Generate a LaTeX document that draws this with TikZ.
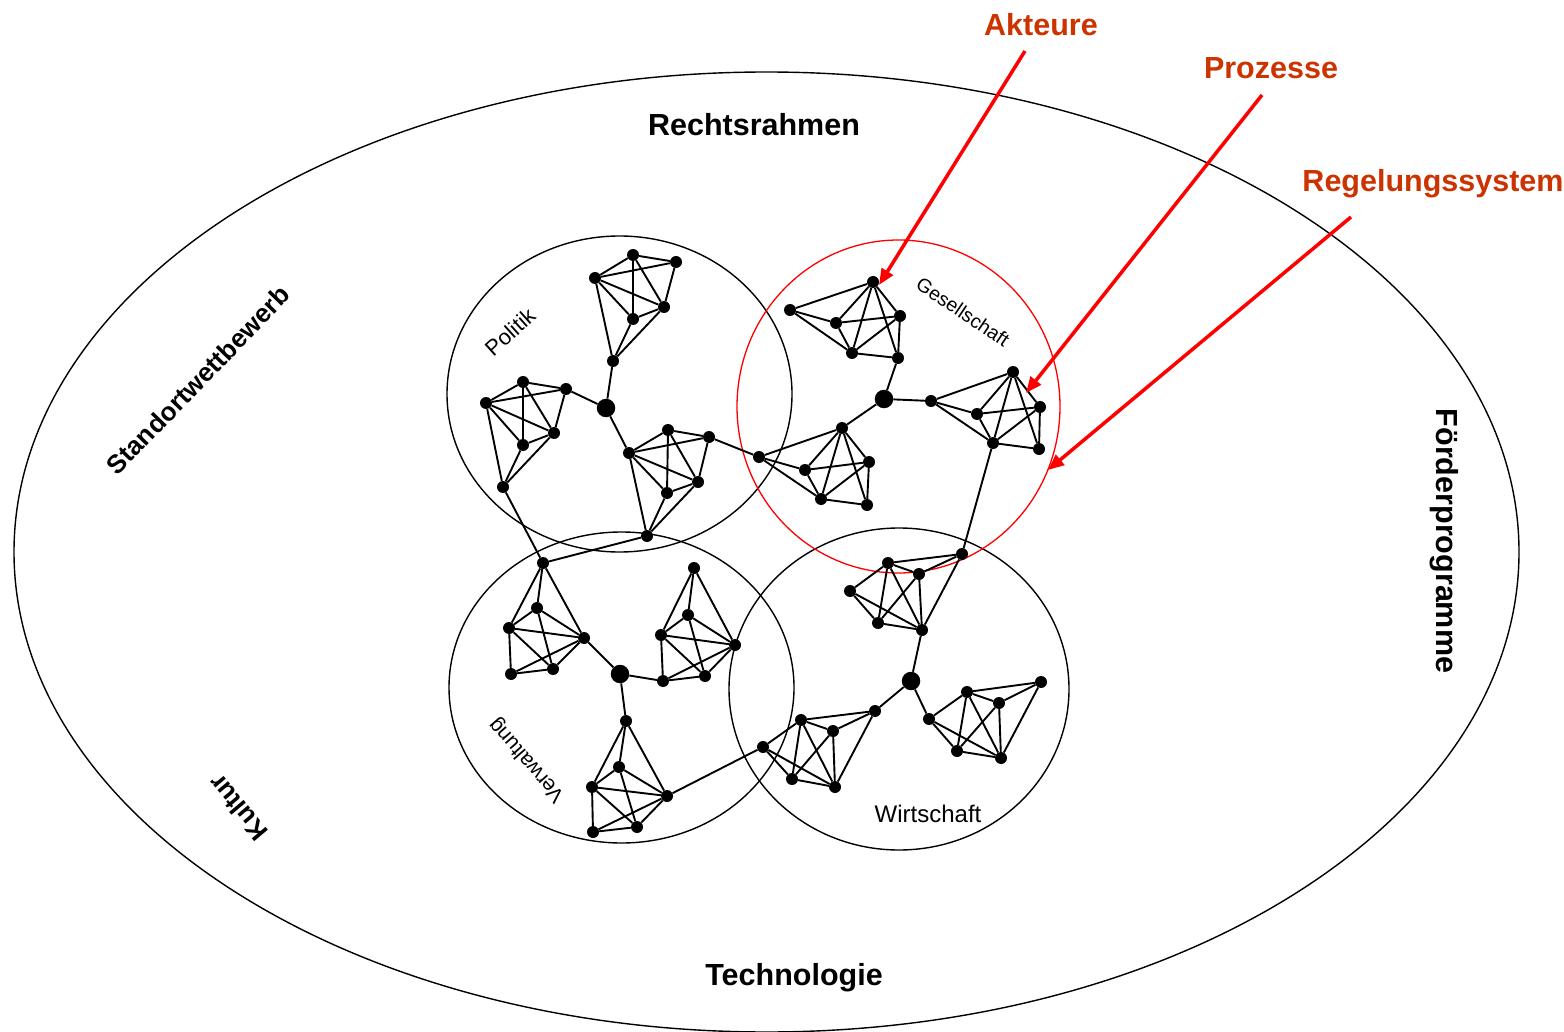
\documentclass[tikz,border=0pt]{standalone}
\usepackage{fontspec}
\setmainfont{Liberation Sans}
\usetikzlibrary{arrows.meta}
\definecolor{labelred}{RGB}{204,51,0}
\definecolor{arrowred}{RGB}{255,0,0}

\begin{document}
\begin{tikzpicture}[x=1pt,y=-1pt,
  dot/.style={circle,fill=black,inner sep=0pt,minimum size=12pt},
  hub/.style={circle,fill=black,inner sep=0pt,minimum size=18.5pt},
  link/.style={line width=1.9pt},
  area/.style={line width=1.4pt},
  bigtitle/.style={font=\fontsize{30.5}{36}\selectfont\bfseries,inner sep=0pt},
  sidetitle/.style={font=\fontsize{26}{31}\selectfont\bfseries,inner sep=0pt},
  sector/.style={font=\fontsize{22}{26}\selectfont,inner sep=0pt},
  callout/.style={font=\fontsize{30.5}{36}\selectfont\bfseries,text=labelred,inner sep=0pt},
  pointer/.style={draw=arrowred,line width=3.5pt,-{Triangle[length=16pt,width=13pt]}}
]
\useasboundingbox (0,0) rectangle (1564,1032);

% environment and the four sectors
\draw[area] (766.5,552) ellipse [x radius=752.5pt, y radius=480pt];
\draw[area] (619.5,394) ellipse [x radius=172.5pt, y radius=158pt];
\draw[area] (621.5,687.5) ellipse [x radius=172.5pt, y radius=155.5pt];
\draw[area] (899,689) ellipse [x radius=170pt, y radius=161pt];
\draw[area,draw=arrowred,line width=1.3pt] (898.5,406.5) ellipse [x radius=161.5pt, y radius=166.5pt];

% Politik
\node[dot] (pa) at (595,278) {};
\node[dot] (pb) at (633,255) {};
\node[dot] (pc) at (676,262) {};
\node[dot] (pd) at (664,307) {};
\node[dot] (pe) at (633,319) {};
\node[dot] (pf) at (613,361) {};
\node[hub] (ph) at (606,408) {};
\node[dot] (qa) at (486,403) {};
\node[dot] (qb) at (523,382) {};
\node[dot] (qc) at (566,389) {};
\node[dot] (qd) at (554,433) {};
\node[dot] (qe) at (523,445) {};
\node[dot] (qf) at (503,487) {};
\node[dot] (ra) at (629,453) {};
\node[dot] (rb) at (668,430) {};
\node[dot] (rc) at (709,437) {};
\node[dot] (rd) at (698,482) {};
\node[dot] (re) at (667,493) {};
\node[dot] (rf) at (647,536) {};

% Gesellschaft
\node[dot] (ga) at (873,282) {};
\node[dot] (gb) at (790,310) {};
\node[dot] (gc) at (836,323) {};
\node[dot] (gd) at (900,316) {};
\node[dot] (ge) at (852,353) {};
\node[dot] (gf) at (898,358) {};
\node[hub] (gh) at (884,399) {};
\node[dot] (ha) at (931,401) {};
\node[dot] (hb) at (1013,372) {};
\node[dot] (hc) at (977,414) {};
\node[dot] (hd) at (1040,407) {};
\node[dot] (he) at (993,443) {};
\node[dot] (hf) at (1039,449) {};
\node[dot] (ia) at (842,428) {};
\node[dot] (ib) at (759,457) {};
\node[dot] (ic) at (805,470) {};
\node[dot] (id) at (869,462) {};
\node[dot] (ie) at (821,499) {};
\node[dot] (if) at (867,505) {};

% Verwaltung
\node[dot] (va) at (543,563) {};
\node[dot] (vb) at (537,608) {};
\node[dot] (vc) at (509,628) {};
\node[dot] (vd) at (584,638) {};
\node[dot] (ve) at (553,669) {};
\node[dot] (vf) at (511,674) {};
\node[hub] (vh) at (620,674) {};
\node[dot] (wa) at (694,568) {};
\node[dot] (wb) at (688,615) {};
\node[dot] (wc) at (661,635) {};
\node[dot] (wd) at (735,645) {};
\node[dot] (we) at (705,676) {};
\node[dot] (wf) at (663,681) {};
\node[dot] (xa) at (626,721) {};
\node[dot] (xb) at (619,767) {};
\node[dot] (xc) at (592,787) {};
\node[dot] (xd) at (667,796) {};
\node[dot] (xe) at (637,827) {};
\node[dot] (xf) at (593,832) {};

% Wirtschaft
\node[dot] (ya) at (962,554) {};
\node[dot] (yb) at (888,563) {};
\node[dot] (yc) at (919,574) {};
\node[dot] (yd) at (850,591) {};
\node[dot] (ye) at (878,623) {};
\node[dot] (yf) at (922,630) {};
\node[hub] (yh) at (911,681) {};
\node[dot] (za) at (929,719) {};
\node[dot] (zb) at (967,692) {};
\node[dot] (zc) at (999,703) {};
\node[dot] (zd) at (1041,682) {};
\node[dot] (ze) at (957,751) {};
\node[dot] (zf) at (1001,758) {};
\node[dot] (ua) at (875,711) {};
\node[dot] (ub) at (801,720) {};
\node[dot] (uc) at (833,731) {};
\node[dot] (ud) at (763,747) {};
\node[dot] (ue) at (792,779) {};
\node[dot] (uf) at (835,787) {};

% links inside the groups, to the hubs and between sectors
\foreach \a/\b in {
  pa/pb,pb/pc,pa/pc,pa/pd,pa/pe,pb/pe,pb/pd,pc/pd,pd/pe,pa/pf,pe/pf,pd/pf,pf/ph,
  qa/qb,qb/qc,qa/qc,qa/qd,qa/qe,qa/qf,qb/qe,qb/qd,qc/qd,qd/qe,qe/qf,qd/qf,qc/ph,
  ra/rb,rb/rc,ra/rc,ra/rd,ra/re,ra/rf,rb/re,rb/rd,rc/rd,rd/re,re/rf,rd/rf,ph/ra,
  ga/gb,ga/gc,ga/ge,ga/gd,ga/gf,gb/gc,gb/ge,gc/gd,gc/ge,gd/ge,gd/gf,ge/gf,gf/gh,
  ha/hb,ha/hc,ha/he,hb/hc,hb/he,hb/hd,hb/hf,hc/hd,hc/he,hd/he,hd/hf,he/hf,gh/ha,
  ib/ia,ib/ic,ib/ie,ia/ic,ia/id,ia/ie,ia/if,ic/id,ic/ie,id/ie,id/if,ie/if,gh/ia,
  va/vb,va/vc,va/vd,vb/vc,vb/vd,vb/ve,vc/vd,vc/ve,vc/vf,vd/ve,vd/vf,ve/vf,vd/vh,
  wa/wc,wa/wb,wa/wd,wb/wc,wb/wd,wb/we,wc/wd,wc/we,wc/wf,wd/we,wd/wf,we/wf,vh/wf,
  xa/xb,xa/xc,xa/xd,xb/xc,xb/xd,xb/xe,xc/xd,xc/xe,xc/xf,xd/xe,xd/xf,xe/xf,vh/xa,
  yb/ya,ya/yc,ya/yf,yb/yc,yb/yd,yb/ye,yb/yf,yd/ye,yd/yf,yc/ye,yc/yf,ye/yf,yf/yh,
  za/zb,za/ze,za/zf,zb/zd,zb/zc,zb/ze,zb/zf,zc/zd,zc/ze,zc/zf,zd/zf,ze/zf,yh/za,
  ua/ub,ua/uc,ua/uf,ub/ud,ub/uc,ub/ue,ub/uf,uc/ue,uc/uf,ud/ue,ud/uf,ue/uf,yh/ua,
  qf/va,rf/va,rc/ib,he/ya,xd/ud}
  \draw[link] (\a) -- (\b);

% sector names
\node[sector,rotate=42] (lpol) at (510,332) {Politik};
\node[font=\fontsize{19.5}{23}\selectfont,inner sep=0pt,rotate=-34] (lges) at (963,312) {Gesellschaft};
\node[font=\fontsize{21}{25}\selectfont,inner sep=0pt,rotate=131] (lver) at (527,760) {Verwaltung};
\node[font=\fontsize{24}{29}\selectfont,inner sep=0pt] (lwir) at (928,814) {Wirtschaft};

% surrounding conditions
\node[bigtitle,anchor=base] (lrecht) at (754,136) {Rechtsrahmen};
\node[bigtitle,anchor=base] (ltech) at (794,985) {Technologie};
\node[bigtitle,rotate=-90] (lfoerd) at (1444,541) {Förderprogramme};
\node[sidetitle,rotate=46] (lstand) at (198,380) {Standortwettbewerb};
\node[sidetitle,rotate=130] (lkult) at (238,808) {Kultur};

% call-outs
\node[callout,anchor=base] (lakt) at (1041,36) {Akteure};
\node[callout,anchor=base] (lproz) at (1271,79) {Prozesse};
\node[callout,anchor=base] (lreg) at (1433,192) {Regelungssystem};
\coordinate (akt-from) at (1025,51);
\coordinate (akt-to) at (879,285);
\coordinate (proz-from) at (1262,95);
\coordinate (proz-to) at (1026,393);
\coordinate (reg-from) at (1351,217);
\coordinate (reg-to) at (1048,470);
\draw[pointer] (akt-from) -- (akt-to);
\draw[pointer] (proz-from) -- (proz-to);
\draw[pointer] (reg-from) -- (reg-to);
\end{tikzpicture}
\end{document}
